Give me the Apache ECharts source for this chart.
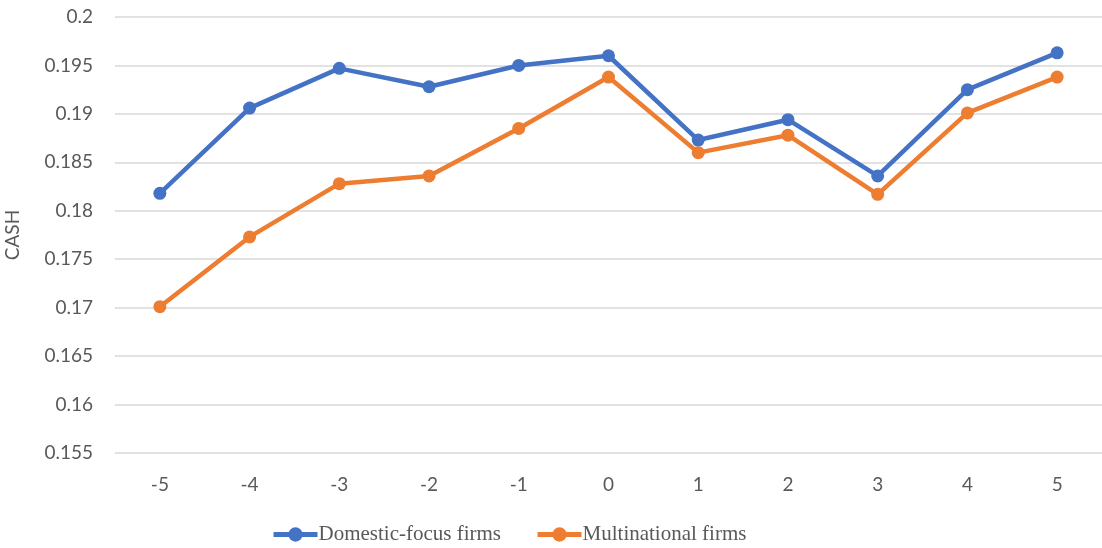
<!DOCTYPE html>
<html>
<head>
<meta charset="utf-8">
<script src="https://cdn.jsdelivr.net/npm/echarts@6/dist/echarts.min.js"></script>
<style>
html, body { margin: 0; padding: 0; background: #fff; }
#main { width: 1102px; height: 548px; }
</style>
</head>
<body>
<div id="main"></div>
<script>
var years = ['-5', '-4', '-3', '-2', '-1', '0', '1', '2', '3', '4', '5'];
var domestic = [0.1818, 0.1906, 0.1947, 0.1928, 0.1950, 0.1960, 0.1873, 0.1894, 0.1836, 0.1925, 0.1963];
var multinational = [0.1701, 0.1773, 0.1828, 0.1836, 0.1885, 0.1938, 0.1860, 0.1878, 0.1817, 0.1901, 0.1938];

var chart = echarts.init(document.getElementById('main'), null, { renderer: 'canvas' });

var lbl = { color: '#595959', fontFamily: 'Lato', fontSize: 19 };

var option = {
    animation: false,
    grid: { left: 115, right: 0, top: 17, height: 436, containLabel: false, outerBoundsMode: 'none' },
    legend: {
        top: 524,
        left: 271,
        padding: 0,
        itemWidth: 44,
        itemHeight: 18,
        itemGap: 34,
        lineStyle: { width: 5 },
        textStyle: { color: '#595959', fontFamily: 'Liberation Serif', fontSize: 21, padding: [0, 0, 0, -4] },
        data: ['Domestic-focus firms', 'Multinational firms']
    },
    xAxis: {
        type: 'category',
        data: years,
        boundaryGap: true,
        axisLine: { show: false },
        axisTick: { show: false },
        axisLabel: Object.assign({ margin: 22 }, lbl)
    },
    yAxis: {
        type: 'value',
        min: 0.155,
        max: 0.2,
        interval: 0.005,
        name: 'CASH',
        nameLocation: 'middle',
        nameGap: 93,
        nameTextStyle: lbl,
        axisLabel: Object.assign({ margin: 22, formatter: function (v) { return +v.toFixed(3) + ''; } }, lbl),
        splitLine: { lineStyle: { color: '#d9d9d9', width: 1.5 } }
    },
    series: [
        {
            name: 'Domestic-focus firms',
            type: 'line',
            data: domestic,
            symbol: 'circle',
            symbolSize: 13,
            lineStyle: { width: 4.5, color: '#4472C4' },
            itemStyle: { color: '#4472C4' }
        },
        {
            name: 'Multinational firms',
            type: 'line',
            data: multinational,
            symbol: 'circle',
            symbolSize: 13,
            lineStyle: { width: 4.5, color: '#ED7D31' },
            itemStyle: { color: '#ED7D31' }
        }
    ]
};

chart.setOption(option);
window.addEventListener('resize', chart.resize);
</script>
</body>
</html>
